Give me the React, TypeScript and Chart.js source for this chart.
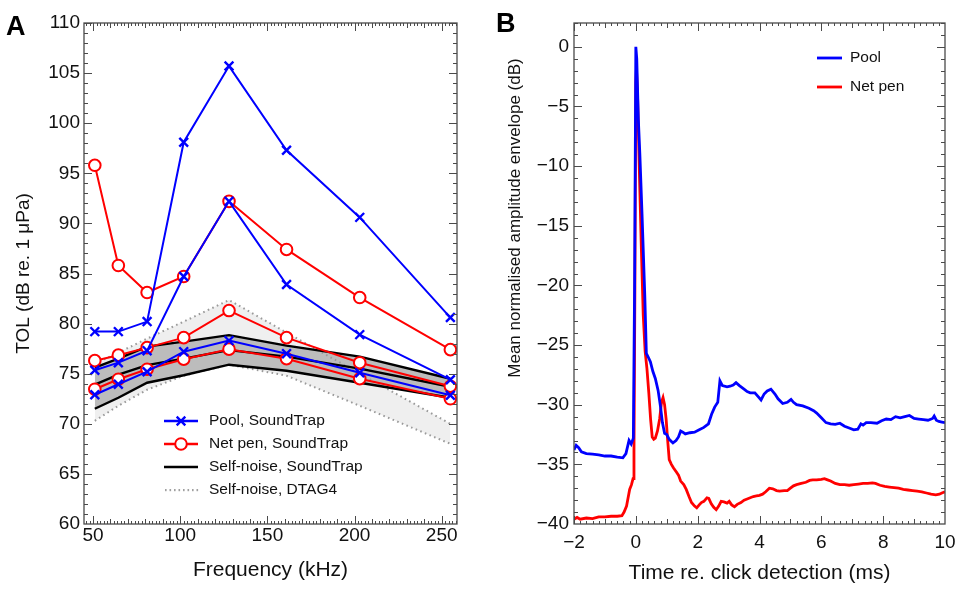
import React, { useEffect, useRef } from "react";
import { Chart, registerables } from "chart.js";

Chart.register(...registerables);

// ---------------- Panel A data ----------------
const freqKHz = [51, 64.5, 81, 102, 128, 161, 203, 255];
const poolHigh = [79.2, 79.2, 80.2, 98.1, 105.7, 97.3, 90.6, 80.6];
const poolMid = [75.35, 76.1, 77.3, 84.7, 92.2, 83.9, 78.9, 74.4];
const poolLow = [72.9, 73.95, 75.2, 77.2, 78.3, 77.0, 75.1, 72.85];
const netHigh = [95.8, 85.8, 83.1, 84.7, 92.2, 87.4, 82.6, 77.4];
const netMid = [76.3, 76.85, 77.6, 78.6, 81.3, 78.6, 76.1, 73.75];
const netLow = [73.45, 74.45, 75.45, 76.45, 77.45, 76.5, 74.5, 72.5];
const soundTrapUpper = [75.6, 76.5, 77.7, 78.2, 78.85, 77.8, 76.7, 74.5];
const soundTrapMid = [73.9, 74.9, 75.85, 76.5, 77.35, 76.7, 75.5, 73.7];
const soundTrapLower = [71.5, 72.6, 74.1, 74.85, 75.9, 75.3, 74.1, 72.6];
const dtagUpper = [76.0, 77.1, 78.5, 80.2, 82.35, 79.1, 75.0, 70.0];
const dtagLower = [70.3, 71.8, 73.4, 74.8, 75.9, 74.8, 71.8, 68.0];

const xTickLabelsA = [50, 100, 150, 200, 250];
const yTickLabelsA = [60, 65, 70, 75, 80, 85, 90, 95, 100, 105, 110];

const legendA = [
  { label: "Pool, SoundTrap", kind: "cross", color: "#0000ff" },
  { label: "Net pen, SoundTrap", kind: "circle", color: "#ff0000" },
  { label: "Self-noise, SoundTrap", kind: "line", color: "#000000" },
  { label: "Self-noise, DTAG4", kind: "dotted", color: "#a0a0a0" },
];

// ---------------- Panel B data ----------------
const poolEnvelope: [number, number][] = [
  [-2.0, -33.8], [-1.93, -33.4], [-1.85, -33.6], [-1.76, -33.95], [-1.6, -34.1],
  [-1.4, -34.15], [-1.2, -34.2], [-1.0, -34.3], [-0.8, -34.3], [-0.6, -34.4],
  [-0.42, -34.45], [-0.32, -34.1], [-0.22, -33.0], [-0.15, -33.3], [-0.08, -32.8],
  [-0.04, -20.0], [0.0, 0.0], [0.03, -1.0], [0.08, -6.0], [0.13, -9.0],
  [0.2, -14.0], [0.29, -20.9], [0.34, -25.7], [0.4, -26.0], [0.47, -26.4],
  [0.55, -27.2], [0.63, -27.8], [0.72, -28.8], [0.8, -30.2], [0.86, -31.5],
  [0.93, -32.4], [1.0, -32.5], [1.08, -32.9], [1.2, -33.2], [1.3, -33.0],
  [1.38, -32.7], [1.45, -32.2], [1.52, -32.3], [1.6, -32.45], [1.75, -32.35],
  [1.9, -32.3], [2.05, -32.1], [2.2, -31.9], [2.35, -31.6], [2.45, -30.8],
  [2.55, -30.2], [2.65, -29.8], [2.72, -28.0], [2.8, -28.4], [2.95, -28.5],
  [3.05, -28.45], [3.15, -28.35], [3.24, -28.15], [3.35, -28.4], [3.5, -28.7],
  [3.6, -28.9], [3.7, -29.0], [3.85, -29.0], [3.95, -29.3], [4.05, -29.6],
  [4.15, -29.1], [4.25, -28.85], [4.37, -28.7], [4.5, -29.1], [4.6, -29.5],
  [4.75, -29.9], [4.9, -29.8], [5.02, -29.55], [5.1, -29.8], [5.2, -30.0],
  [5.4, -30.1], [5.6, -30.3], [5.75, -30.5], [5.85, -30.7], [6.0, -31.1],
  [6.15, -31.5], [6.3, -31.6], [6.45, -31.65], [6.6, -31.55], [6.75, -31.8],
  [6.9, -31.95], [7.05, -32.1], [7.18, -32.05], [7.28, -31.6], [7.35, -31.7],
  [7.45, -31.5], [7.6, -31.5], [7.8, -31.55], [7.95, -31.35], [8.1, -31.2],
  [8.25, -31.25], [8.4, -31.0], [8.55, -31.1], [8.7, -31.0], [8.85, -30.9],
  [9.0, -31.15], [9.15, -31.2], [9.3, -31.25], [9.45, -31.3], [9.6, -31.15],
  [9.65, -30.95], [9.72, -31.3], [9.8, -31.4], [9.9, -31.45], [10.0, -31.5],
];

const netPenEnvelope: [number, number][] = [
  [-2.0, -39.6], [-1.9, -39.45], [-1.8, -39.6], [-1.6, -39.5], [-1.4, -39.55],
  [-1.2, -39.4], [-1.0, -39.4], [-0.8, -39.35], [-0.6, -39.35], [-0.45, -39.3],
  [-0.38, -39.0], [-0.3, -38.5], [-0.25, -37.8], [-0.2, -37.1], [-0.14, -36.7],
  [-0.09, -36.2], [-0.06, -34.0], [-0.03, -20.0], [0.0, -3.0], [0.02, -1.8],
  [0.06, -4.5], [0.12, -11.0], [0.18, -17.0], [0.24, -22.5], [0.3, -25.5],
  [0.36, -27.0], [0.42, -29.0], [0.48, -31.3], [0.53, -32.7], [0.58, -32.9],
  [0.63, -32.8], [0.7, -32.2], [0.77, -31.2], [0.83, -29.8], [0.88, -29.4],
  [0.93, -30.0], [0.98, -31.2], [1.03, -33.0], [1.08, -34.6], [1.15, -35.0],
  [1.22, -35.3], [1.3, -35.6], [1.38, -35.9], [1.45, -36.4], [1.55, -36.7],
  [1.63, -37.1], [1.72, -37.7], [1.8, -38.2], [1.9, -38.5], [1.97, -38.65],
  [2.05, -38.4], [2.12, -38.2], [2.2, -38.1], [2.3, -37.8], [2.36, -37.85],
  [2.44, -38.3], [2.52, -38.6], [2.6, -38.8], [2.68, -38.5], [2.76, -38.1],
  [2.85, -38.15], [2.95, -38.25], [3.02, -38.1], [3.1, -38.4], [3.19, -38.55],
  [3.28, -38.35], [3.4, -38.2], [3.5, -38.0], [3.6, -37.9], [3.7, -37.8],
  [3.8, -37.7], [3.9, -37.65], [4.0, -37.6], [4.1, -37.5], [4.2, -37.3],
  [4.32, -37.0], [4.43, -37.05], [4.55, -37.2], [4.65, -37.25], [4.8, -37.2],
  [4.9, -37.2], [5.0, -37.0], [5.1, -36.8], [5.2, -36.7], [5.35, -36.6],
  [5.5, -36.5], [5.62, -36.35], [5.72, -36.3], [5.85, -36.3], [6.0, -36.25],
  [6.1, -36.2], [6.2, -36.3], [6.3, -36.4], [6.45, -36.6], [6.6, -36.7],
  [6.75, -36.7], [6.9, -36.75], [7.05, -36.7], [7.2, -36.65], [7.35, -36.6],
  [7.5, -36.6], [7.65, -36.55], [7.75, -36.6], [7.9, -36.75], [8.05, -36.85],
  [8.2, -36.9], [8.35, -36.95], [8.5, -37.0], [8.65, -37.1], [8.8, -37.15],
  [8.95, -37.2], [9.1, -37.25], [9.25, -37.3], [9.4, -37.4], [9.55, -37.5],
  [9.7, -37.55], [9.82, -37.5], [9.9, -37.4], [10.0, -37.3],
];

const xTickLabelsB = [-2, 0, 2, 4, 6, 8, 10];
const yTickLabelsB = [0, -5, -10, -15, -20, -25, -30, -35, -40];

const legendB = [
  { label: "Pool", kind: "line", color: "#0000ff" },
  { label: "Net pen", kind: "line", color: "#ff0000" },
];

// ---------------- helpers ----------------
const FONT = "'Liberation Sans', Arial, Helvetica, sans-serif";
const BLUE = "#0000ff";
const RED = "#ff0000";
const FRAME = "#4a4a4a";
const TEXT = "#111111";

function range(start: number, end: number, step: number): number[] {
  const out: number[] = [];
  const n = Math.round((end - start) / step);
  for (let i = 0; i <= n; i++) out.push(+(start + i * step).toFixed(6));
  return out;
}

const fmtMinus = (v: number) => (v < 0 ? "\u2212" + Math.abs(v) : String(v));

const frameTicksPlugin = {
  id: "frameTicks",
  afterDatasetsDraw(chart: any, _args: any, opts: any) {
    const { ctx, chartArea: a, scales } = chart;
    const xs = scales.x;
    const ys = scales.y;
    ctx.save();
    ctx.strokeStyle = FRAME;
    ctx.lineWidth = 1;
    ctx.beginPath();
    const xTick = (v: number, len: number) => {
      const p = Math.round(xs.getPixelForValue(v)) + 0.5;
      if (p < a.left || p > a.right) return;
      ctx.moveTo(p, a.bottom);
      ctx.lineTo(p, a.bottom - len);
      ctx.moveTo(p, a.top);
      ctx.lineTo(p, a.top + len);
    };
    const yTick = (v: number, len: number) => {
      const p = Math.round(ys.getPixelForValue(v)) + 0.5;
      if (p < a.top || p > a.bottom) return;
      ctx.moveTo(a.left, p);
      ctx.lineTo(a.left + len, p);
      ctx.moveTo(a.right, p);
      ctx.lineTo(a.right - len, p);
    };
    opts.xMinor.forEach((v: number) => xTick(v, 3));
    opts.xMid.forEach((v: number) => xTick(v, 5));
    opts.xMajor.forEach((v: number) => xTick(v, 8));
    opts.yMinor.forEach((v: number) => yTick(v, 4));
    opts.yMajor.forEach((v: number) => yTick(v, 8));
    ctx.stroke();
    ctx.lineWidth = 1.3;
    ctx.strokeRect(a.left, a.top, a.right - a.left, a.bottom - a.top);
    ctx.restore();
  },
};

const annotPlugin = {
  id: "annot",
  afterDraw(chart: any, _args: any, opts: any) {
    const { ctx } = chart;
    ctx.save();
    // panel label
    ctx.fillStyle = "#000";
    ctx.font = `bold 27px ${FONT}`;
    ctx.textAlign = "left";
    ctx.textBaseline = "alphabetic";
    ctx.fillText(opts.panel.text, opts.panel.x, opts.panel.y);
    // optional custom y title
    if (opts.yTitle) {
      ctx.save();
      ctx.translate(opts.yTitle.x, opts.yTitle.y);
      ctx.rotate(-Math.PI / 2);
      ctx.font = `${opts.yTitle.size}px ${FONT}`;
      ctx.textAlign = "center";
      ctx.textBaseline = "middle";
      ctx.fillStyle = TEXT;
      ctx.fillText(opts.yTitle.text, 0, 0);
      ctx.restore();
    }
    // legend
    const L = opts.legend;
    L.items.forEach((it: any, i: number) => {
      const y = L.y + i * L.dy;
      const x0 = L.x;
      const x1 = L.x + L.len;
      const cx = (x0 + x1) / 2;
      ctx.save();
      if (it.kind === "dotted") {
        ctx.fillStyle = it.color;
        for (let x = x0 + 1; x <= x1; x += 4.5) ctx.fillRect(x, y - 1, 1.6, 2.2);
      } else {
        ctx.strokeStyle = it.color;
        ctx.lineWidth = L.lw;
        ctx.beginPath();
        ctx.moveTo(x0, y);
        ctx.lineTo(x1, y);
        ctx.stroke();
      }
      if (it.kind === "cross") {
        ctx.lineWidth = 2.4;
        ctx.beginPath();
        ctx.moveTo(cx - 4.3, y - 4.3);
        ctx.lineTo(cx + 4.3, y + 4.3);
        ctx.moveTo(cx - 4.3, y + 4.3);
        ctx.lineTo(cx + 4.3, y - 4.3);
        ctx.stroke();
      } else if (it.kind === "circle") {
        ctx.lineWidth = 2;
        ctx.fillStyle = "#fff";
        ctx.beginPath();
        ctx.arc(cx, y, 5.8, 0, Math.PI * 2);
        ctx.fill();
        ctx.stroke();
      }
      ctx.restore();
      ctx.fillStyle = TEXT;
      ctx.font = `15.5px ${FONT}`;
      ctx.textAlign = "left";
      ctx.textBaseline = "middle";
      ctx.fillText(it.label, L.textX, y);
    });
    ctx.restore();
  },
};

const xy = (ys: number[]) => freqKHz.map((x, i) => ({ x, y: ys[i] }));
const pairs = (p: [number, number][]) => p.map(([x, y]) => ({ x, y }));

function configA(): any {
  const poolStyle = {
    borderColor: BLUE,
    borderWidth: 2,
    pointStyle: "crossRot",
    pointRadius: 6.2,
    pointBorderWidth: 2.4,
    pointBorderColor: BLUE,
    pointBackgroundColor: BLUE,
    fill: false,
  };
  const netStyle = {
    borderColor: RED,
    borderWidth: 2,
    pointStyle: "circle",
    pointRadius: 5.8,
    pointBorderWidth: 2,
    pointBorderColor: RED,
    pointBackgroundColor: "#ffffff",
    fill: false,
  };
  const stStyle = { borderColor: "#000", borderWidth: 2.4, pointRadius: 0, fill: false };
  const dtStyle = { borderColor: "#9a9a9a", borderWidth: 2, borderDash: [1.6, 3.4], pointRadius: 0, fill: false };
  return {
    type: "line",
    data: {
      datasets: [
        { label: "Pool, SoundTrap", data: xy(poolHigh), ...poolStyle },
        { label: "Pool, SoundTrap (2)", data: xy(poolMid), ...poolStyle },
        { label: "Pool, SoundTrap (3)", data: xy(poolLow), ...poolStyle },
        { label: "Net pen, SoundTrap", data: xy(netHigh), ...netStyle },
        { label: "Net pen, SoundTrap (2)", data: xy(netMid), ...netStyle },
        { label: "Net pen, SoundTrap (3)", data: xy(netLow), ...netStyle },
        { label: "Self-noise, SoundTrap lower", data: xy(soundTrapLower), ...stStyle },
        { label: "Self-noise, SoundTrap mid", data: xy(soundTrapMid), ...stStyle },
        {
          label: "Self-noise, SoundTrap upper",
          data: xy(soundTrapUpper),
          ...stStyle,
          fill: { target: 6 },
          backgroundColor: "#bcbcbc",
        },
        { label: "Self-noise, DTAG4 lower", data: xy(dtagLower), ...dtStyle },
        {
          label: "Self-noise, DTAG4 upper",
          data: xy(dtagUpper),
          ...dtStyle,
          fill: { target: 9 },
          backgroundColor: "#efefef",
        },
      ],
    },
    options: {
      responsive: false,
      animation: false,
      devicePixelRatio: 1,
      layout: { padding: { left: 0, top: 23, right: 478 - 457, bottom: 0 } },
      plugins: {
        legend: { display: false },
        tooltip: { enabled: false },
        filler: { propagate: false, drawTime: "beforeDatasetsDraw" },
        frameTicks: {
          xMajor: xTickLabelsA,
          xMid: range(50, 250, 10),
          xMinor: range(46, 258, 2),
          yMajor: yTickLabelsA,
          yMinor: range(60, 110, 1),
        },
        annot: {
          panel: { text: "A", x: 6, y: 35 },
          legend: { items: legendA, x: 164, len: 34, textX: 209, y: 421, dy: 23, lw: 2.4 },
        },
      },
      scales: {
        x: {
          type: "linear",
          min: 44.8,
          max: 258.8,
          grid: { display: false, drawTicks: false, tickLength: 0 },
          border: { display: false },
          afterBuildTicks: (s: any) => {
            s.ticks = xTickLabelsA.map((v) => ({ value: v }));
          },
          afterFit: (s: any) => {
            s.height = 591 - 524;
          },
          ticks: {
            autoSkip: false,
            maxRotation: 0,
            padding: 0,
            color: TEXT,
            font: { family: FONT, size: 19 },
          },
          title: {
            display: true,
            text: "Frequency (kHz)",
            color: TEXT,
            font: { family: FONT, size: 21 },
            padding: { top: 0, bottom: 8 },
          },
        },
        y: {
          type: "linear",
          min: 60,
          max: 110,
          grid: { display: false, drawTicks: false, tickLength: 0 },
          border: { display: false },
          afterBuildTicks: (s: any) => {
            s.ticks = yTickLabelsA.map((v) => ({ value: v }));
          },
          afterFit: (s: any) => {
            s.width = 84;
          },
          ticks: {
            autoSkip: false,
            padding: 4,
            color: TEXT,
            font: { family: FONT, size: 19 },
          },
          title: {
            display: true,
            text: "TOL (dB re. 1 \u03BCPa)",
            color: TEXT,
            font: { family: FONT, size: 19 },
            padding: { top: 12.5, bottom: 0 },
          },
        },
      },
    },
    plugins: [frameTicksPlugin, annotPlugin],
  };
}

function configB(): any {
  return {
    type: "line",
    data: {
      datasets: [
        {
          label: "Pool",
          data: pairs(poolEnvelope),
          borderColor: BLUE,
          borderWidth: 2.8,
          pointRadius: 0,
          fill: false,
        },
        {
          label: "Net pen",
          data: pairs(netPenEnvelope),
          borderColor: RED,
          borderWidth: 2.8,
          pointRadius: 0,
          fill: false,
        },
      ],
    },
    options: {
      responsive: false,
      animation: false,
      devicePixelRatio: 1,
      layout: { padding: { left: 0, top: 23, right: 956 - 945, bottom: 0 } },
      plugins: {
        legend: { display: false },
        tooltip: { enabled: false },
        frameTicks: {
          xMajor: xTickLabelsB,
          xMid: range(-2, 10, 1),
          xMinor: range(-2, 10, 0.2),
          yMajor: yTickLabelsB,
          yMinor: range(-40, 2, 1),
        },
        annot: {
          panel: { text: "B", x: 18, y: 32 },
          yTitle: { text: "Mean normalised amplitude envelope (dB)", x: 37, y: 218, size: 17 },
          legend: { items: legendB, x: 339, len: 25, textX: 372, y: 58, dy: 29, lw: 2.8 },
        },
      },
      scales: {
        x: {
          type: "linear",
          min: -2,
          max: 10,
          grid: { display: false, drawTicks: true, tickLength: 7 },
          border: { display: false },
          afterBuildTicks: (s: any) => {
            s.ticks = xTickLabelsB.map((v) => ({ value: v }));
          },
          afterFit: (s: any) => {
            s.height = 591 - 524;
          },
          ticks: {
            autoSkip: false,
            maxRotation: 0,
            padding: 0,
            color: TEXT,
            font: { family: FONT, size: 19 },
            callback: (v: any) => fmtMinus(Number(v)),
          },
          title: {
            display: true,
            text: "Time re. click detection (ms)",
            color: TEXT,
            font: { family: FONT, size: 21 },
            padding: { top: 0, bottom: 5.5 },
          },
        },
        y: {
          type: "linear",
          min: -40,
          max: 2,
          grid: { display: false, drawTicks: false, tickLength: 0 },
          border: { display: false },
          afterBuildTicks: (s: any) => {
            s.ticks = yTickLabelsB.map((v) => ({ value: v }));
          },
          afterFit: (s: any) => {
            s.width = 96;
          },
          ticks: {
            autoSkip: false,
            padding: 5,
            color: TEXT,
            font: { family: FONT, size: 19 },
            callback: (v: any) => fmtMinus(Number(v)),
          },
          title: { display: false },
        },
      },
    },
    plugins: [frameTicksPlugin, annotPlugin],
  };
}

function ChartPanel({ makeConfig, left, width }: { makeConfig: () => any; left: number; width: number }) {
  const ref = useRef<HTMLCanvasElement | null>(null);
  useEffect(() => {
    if (!ref.current) return;
    const chart = new Chart(ref.current, makeConfig());
    return () => chart.destroy();
  }, [makeConfig]);
  return (
    <canvas
      ref={ref}
      width={width}
      height={591}
      style={{ position: "absolute", left, top: 0, width, height: 591, display: "block" }}
    />
  );
}

export default function App() {
  return (
    <div
      style={{
        position: "fixed",
        left: 0,
        top: 0,
        width: 956,
        height: 591,
        background: "#ffffff",
        overflow: "hidden",
      }}
    >
      <ChartPanel makeConfig={configA} left={0} width={478} />
      <ChartPanel makeConfig={configB} left={478} width={478} />
    </div>
  );
}
